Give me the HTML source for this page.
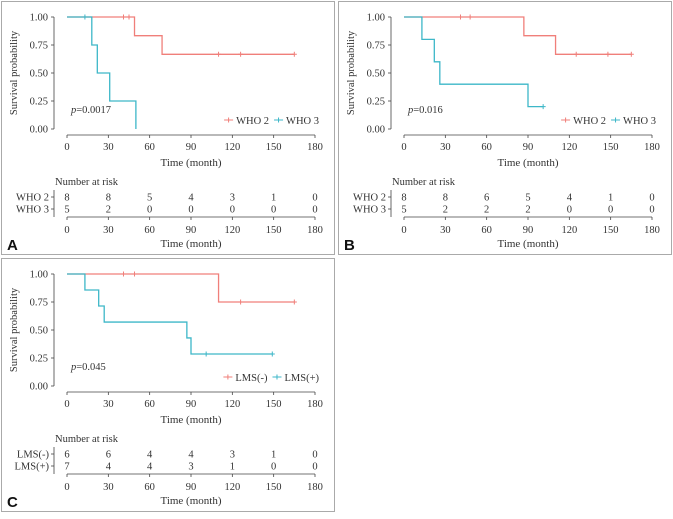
<!DOCTYPE html>
<html><head><meta charset="utf-8"><style>
html,body{margin:0;padding:0;background:#fff;}
svg text{font-family:"Liberation Serif",serif;fill:#333;}
</style></head><body>
<svg id="s" width="673" height="514" xmlns="http://www.w3.org/2000/svg"></svg>
<script>
// Panel A data
const aLabels=["WHO 2","WHO 3"];
const aS1x=[0,49,69,165], aS1y=[1,0.833,0.667,0.667];
const aS1c=[41,45,110,126,165];
const aS2x=[0,18,22,31,50], aS2y=[1,0.75,0.5,0.25,0];
const aS2c=[13];
const aRisk1=[8,8,5,4,3,1,0], aRisk2=[5,2,0,0,0,0,0];
const aP="0.0017";
// Panel B data
const bLabels=["WHO 2","WHO 3"];
const bS1x=[0,87,110,165], bS1y=[1,0.833,0.667,0.667];
const bS1c=[41,48,125,148,165];
const bS2x=[0,13,22,26,90,101], bS2y=[1,0.8,0.6,0.4,0.2,0.2];
const bS2c=[101];
const bRisk1=[8,8,6,5,4,1,0], bRisk2=[5,2,2,2,0,0,0];
const bP="0.016";
// Panel C data
const cLabels=["LMS(-)","LMS(+)"];
const cS1x=[0,110,165], cS1y=[1,0.75,0.75];
const cS1c=[41,49,126,165];
const cS2x=[0,13,23,27,87,90,149], cS2y=[1,0.857,0.714,0.571,0.429,0.286,0.286];
const cS2c=[101,149];
const cRisk1=[6,6,4,4,3,1,0], cRisk2=[7,4,4,3,1,0,0];
const cP="0.045";
const xTicks=[0,30,60,90,120,150,180];
const yTicks=[0,0.25,0.5,0.75,1];
const yTickLabels=["0.00","0.25","0.50","0.75","1.00"];
const C1="#f07f7a",C2="#3db7c8";
const NS="http://www.w3.org/2000/svg";
const svg=document.getElementById('s');
function el(t,a,p,txt){const e=document.createElementNS(NS,t);for(const k in a)e.setAttribute(k,a[k]);if(txt!==undefined)e.textContent=txt;(p||svg).appendChild(e);return e;}
function panel(ox,oy,letter,labels,s1x,s1y,s1c,s2x,s2y,s2c,r1,r2,p){
  const g=el('g',{transform:`translate(${ox},${oy})`});
  
  
  el('rect',{x:0.5,y:0.5,width:333,height:253,fill:'#fff',stroke:'#aaa','stroke-width':1},g);
  const X=t=>66+t*(248/180), Y=v=>128-v*112;
  el('line',{x1:53,y1:Y(1),x2:53,y2:Y(0),stroke:'#444','stroke-width':0.8},g);
  yTicks.forEach((v,i)=>{el('line',{x1:50,y1:Y(v),x2:53,y2:Y(v),stroke:'#444','stroke-width':0.8},g);
    const t=el('text',{x:47,y:Y(v)+3.5,'font-size':10.5,'text-anchor':'end'},g,yTickLabels[i]);
    });
  const yt=el('text',{x:0,y:0,'font-size':10.5,'text-anchor':'middle',transform:`translate(16,${Y(0.5)}) rotate(-90)`},g,'Survival probability');
  
  el('line',{x1:X(0),y1:134,x2:X(180),y2:134,stroke:'#444','stroke-width':0.8},g);
  xTicks.forEach(v=>{el('line',{x1:X(v),y1:134,x2:X(v),y2:137,stroke:'#444','stroke-width':0.8},g);
    const t=el('text',{x:X(v),y:149,'font-size':10.5,'text-anchor':'middle'},g,v);
    });
  const xt=el('text',{x:X(90),y:165,'font-size':11,'text-anchor':'middle'},g,'Time (month)');
  
  function curve(xs,ys,cs,col,name){
    let d=`M${X(xs[0])},${Y(ys[0])}`;
    for(let i=1;i<xs.length;i++){d+=`H${X(xs[i])}V${Y(ys[i])}`;}
    const pa=el('path',{d:d,fill:'none',stroke:col,'stroke-width':1.3},g);
    
    cs.forEach(c=>{let v=ys[0];for(let i=0;i<xs.length;i++){if(xs[i]<=c)v=ys[i];}
      const cx=X(c),cy=Y(v);
      const m=el('path',{d:`M${cx-2.5},${cy}H${cx+2.5}M${cx},${cy-2.5}V${cy+2.5}`,stroke:col,'stroke-width':1},g);
      });
  }
  curve(s1x,s1y,s1c,C1,'series-1');
  curve(s2x,s2y,s2c,C2,'series-2');
  const pt=el('text',{x:70,y:112,'font-size':10.5},g);
  
  el('tspan',{'font-style':'italic'},pt,'p');el('tspan',{},pt,'='+p);
  // legend, right-aligned at 318
  const lg=el('g',{},g);
  const t2=el('text',{x:318,y:123,'font-size':10.5,'text-anchor':'end'},lg,labels[1]);
  const w2=t2.getComputedTextLength();
  let lx=318-w2-12;
  el('path',{d:`M${lx},119H${lx+9}M${lx+4.5},116.5V121.5`,stroke:C2,'stroke-width':1},lg);
  const t1=el('text',{x:lx-5,y:123,'font-size':10.5,'text-anchor':'end'},lg,labels[0]);
  const w1=t1.getComputedTextLength();
  lx=lx-5-w1-12;
  el('path',{d:`M${lx},119H${lx+9}M${lx+4.5},116.5V121.5`,stroke:C1,'stroke-width':1},lg);
  const nr=el('text',{x:54,y:184,'font-size':10.5},g,'Number at risk');
  
  [[r1,196,labels[0]],[r2,208,labels[1]]].forEach(([r,y,lab])=>{
    el('text',{x:48,y:y+3.5,'font-size':10.5,'text-anchor':'end'},g,lab);
    el('line',{x1:50,y1:y,x2:53,y2:y,stroke:'#444','stroke-width':0.8},g);
    xTicks.forEach((v,i)=>{const t=el('text',{x:X(v),y:y+3.5,'font-size':10.5,'text-anchor':'middle'},g,r[i]);
      });
  });
  el('line',{x1:53,y1:189,x2:53,y2:216,stroke:'#444','stroke-width':0.8},g);
  el('line',{x1:X(0),y1:216,x2:X(180),y2:216,stroke:'#444','stroke-width':0.8},g);
  xTicks.forEach(v=>{el('line',{x1:X(v),y1:216,x2:X(v),y2:219,stroke:'#444','stroke-width':0.8},g);
    el('text',{x:X(v),y:232,'font-size':10.5,'text-anchor':'middle'},g,v);});
  el('text',{x:X(90),y:246,'font-size':11,'text-anchor':'middle'},g,'Time (month)');
  const L=el('text',{x:6,y:249,'font-size':15,'font-weight':'bold',style:'font-family:"Liberation Sans",sans-serif;fill:#111'},g,letter);
  
}
panel(1,1,'A',aLabels,aS1x,aS1y,aS1c,aS2x,aS2y,aS2c,aRisk1,aRisk2,aP);
panel(338,1,'B',bLabels,bS1x,bS1y,bS1c,bS2x,bS2y,bS2c,bRisk1,bRisk2,bP);
panel(1,258,'C',cLabels,cS1x,cS1y,cS1c,cS2x,cS2y,cS2c,cRisk1,cRisk2,cP);
</script>
</body></html>
